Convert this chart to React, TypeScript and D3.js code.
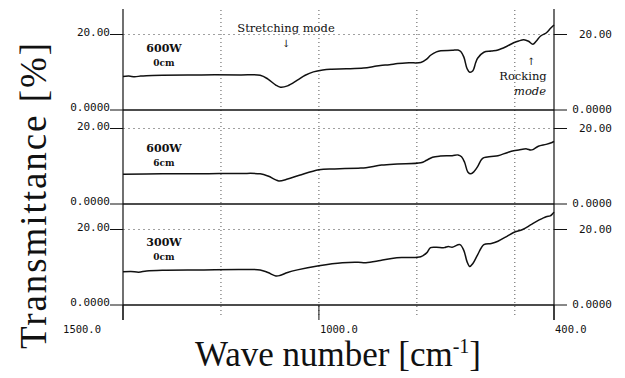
import React, { useRef, useEffect } from 'react';
import * as d3 from 'd3';

// wave number [cm-1] and transmittance [%]
const wn1 = [1500, 1485, 1470, 1455, 1440, 1400, 1300, 1200, 1150, 1130, 1110, 1098, 1080, 1055, 1035, 1014, 990, 971, 930, 886, 860, 843, 820, 799, 770, 740, 725, 715, 700, 689, 660, 645, 638, 630, 622, 615, 607, 600, 595, 579, 560, 543, 520, 503, 490, 477, 465, 454, 445, 434, 420, 410, 400];
const t1 = [8.9, 9.0, 8.8, 9.0, 9.1, 9.2, 9.3, 9.3, 9.2, 8.2, 6.6, 6.05, 6.4, 7.9, 9.2, 10.1, 10.6, 10.8, 10.9, 11.1, 11.5, 11.8, 12.0, 12.3, 12.5, 12.6, 13.5, 14.5, 15.4, 15.7, 15.8, 15.9, 15.5, 14.0, 11.0, 10.0, 10.4, 12.5, 13.7, 15.3, 15.6, 15.9, 16.9, 17.8, 18.3, 18.6, 18.2, 17.4, 18.3, 19.6, 20.4, 21.5, 22.5];

const wn2 = [1500, 1400, 1300, 1200, 1150, 1130, 1110, 1102, 1080, 1050, 1000, 960, 900, 880, 840, 800, 740, 725, 710, 690, 660, 645, 636, 628, 620, 612, 604, 595, 585, 579, 560, 543, 520, 503, 490, 470, 460, 454, 440, 420, 405, 400];
const t2 = [7.9, 8.0, 8.0, 8.1, 8.0, 7.4, 6.4, 6.1, 6.6, 7.6, 9.1, 9.3, 9.5, 9.6, 10.3, 10.6, 10.9, 11.6, 12.4, 12.7, 12.8, 13.0, 12.5, 11.0, 8.5, 8.0, 8.6, 9.9, 11.8, 12.3, 12.6, 12.8, 13.6, 14.1, 14.3, 14.6, 14.3, 14.4, 15.3, 15.8, 16.3, 16.6];

const wn3 = [1500, 1480, 1460, 1440, 1400, 1300, 1200, 1150, 1130, 1110, 1100, 1080, 1055, 1000, 940, 900, 880, 843, 810, 780, 740, 725, 715, 700, 680, 670, 660, 640, 630, 622, 615, 607, 595, 579, 560, 543, 520, 503, 480, 460, 440, 420, 410, 405, 400];
const t3 = [8.8, 8.9, 8.7, 9.0, 9.2, 9.3, 9.4, 9.3, 8.6, 7.7, 7.8, 8.6, 9.3, 10.4, 11.2, 11.3, 11.2, 11.8, 12.4, 12.6, 12.8, 13.8, 15.2, 15.3, 15.2, 15.5, 15.3, 16.0, 14.4, 11.5, 10.2, 11.0, 13.3, 16.0, 16.3, 16.9, 18.2, 19.2, 20.0, 21.2, 22.4, 23.4, 23.6, 24.0, 24.6];

const panelPower = ['600W', '600W', '300W'];
const panelDist = ['0cm', '6cm', '0cm'];
const yTickValues = [0, 20];
const yTickLabels = ['0.0000', '20.00'];
const xGrid = [1250, 1000, 750, 500];
const xTickValues = [1500, 1000, 400];
const xTickLabels = ['1500.0', '1000.0', '400.0'];

const W = 625;
const H = 378;

const App = () => {
  const ref = useRef<SVGSVGElement>(null);

  useEffect(() => {
    const svg = d3.select(ref.current);
    svg.selectAll('*').remove();

    const x = d3.scaleLinear().domain([1500, 400]).range([123, 554]);
    const zeroY = [110, 204, 305];
    const topY = [10, 110, 204];
    const series = [
      wn1.map((w, i) => [w, t1[i]]),
      wn2.map((w, i) => [w, t2[i]]),
      wn3.map((w, i) => [w, t3[i]]),
    ];
    const mono = 'DejaVu Sans Mono, monospace';
    const serif = 'DejaVu Serif, serif';

    // vertical dotted grid
    xGrid.forEach(v => {
      svg.append('line')
        .attr('x1', x(v)).attr('x2', x(v))
        .attr('y1', 10).attr('y2', 318)
        .attr('stroke', '#555').attr('stroke-width', 1)
        .attr('stroke-dasharray', '1,3');
    });

    series.forEach((data, p) => {
      const y = d3.scaleLinear().domain([0, 20]).range([zeroY[p], zeroY[p] - 75.5]);

      // dotted 20% line
      svg.append('line')
        .attr('x1', x(1500)).attr('x2', x(400))
        .attr('y1', y(20)).attr('y2', y(20))
        .attr('stroke', '#888').attr('stroke-width', 0.8)
        .attr('stroke-dasharray', '2,3');

      // zero line
      svg.append('line')
        .attr('x1', x(1500)).attr('x2', x(400))
        .attr('y1', y(0)).attr('y2', y(0))
        .attr('stroke', '#111').attr('stroke-width', 1.6);

      yTickValues.forEach((v, i) => {
        svg.append('line')
          .attr('x1', 110).attr('x2', x(1500))
          .attr('y1', y(v)).attr('y2', y(v))
          .attr('stroke', '#111').attr('stroke-width', 1);
        svg.append('text')
          .attr('x', 110).attr('y', y(v) + 1)
          .attr('text-anchor', 'end')
          .attr('font-family', mono).attr('font-size', 11)
          .attr('fill', '#111')
          .text(yTickLabels[i]);

        svg.append('line')
          .attr('x1', x(400)).attr('x2', 567)
          .attr('y1', y(v)).attr('y2', y(v))
          .attr('stroke', '#111').attr('stroke-width', 1);
        svg.append('text')
          .attr('x', 612).attr('y', y(v))
          .attr('text-anchor', 'end')
          .attr('dominant-baseline', 'middle')
          .attr('font-family', mono).attr('font-size', 11)
          .attr('fill', '#111')
          .text(yTickLabels[i]);
      });

      const line = d3.line()
        .x(d => x(d[0]))
        .y(d => y(d[1]))
        .curve(d3.curveCatmullRom);

      svg.append('path')
        .datum(data)
        .attr('fill', 'none')
        .attr('stroke', '#111')
        .attr('stroke-width', 1.5)
        .attr('d', line);

      svg.append('text')
        .attr('x', 164).attr('y', topY[p] + 42)
        .attr('text-anchor', 'middle')
        .attr('font-family', serif).attr('font-weight', 'bold')
        .attr('font-size', 11).attr('fill', '#111')
        .text(panelPower[p]);
      svg.append('text')
        .attr('x', 164).attr('y', topY[p] + 56)
        .attr('text-anchor', 'middle')
        .attr('font-family', serif).attr('font-weight', 'bold')
        .attr('font-size', 9).attr('fill', '#111')
        .text(panelDist[p]);
    });

    // frame verticals
    [1500, 400].forEach(v => {
      svg.append('line')
        .attr('x1', x(v)).attr('x2', x(v))
        .attr('y1', 9).attr('y2', 320)
        .attr('stroke', '#111').attr('stroke-width', 1.2);
    });

    // bottom ticks
    xTickValues.forEach((v, i) => {
      svg.append('line')
        .attr('x1', x(v)).attr('x2', x(v))
        .attr('y1', 305).attr('y2', 320)
        .attr('stroke', '#111').attr('stroke-width', 1);
      svg.append('text')
        .attr('x', i === 0 ? x(v) - 22 : x(v) + 1)
        .attr('y', 330)
        .attr('text-anchor', i === 0 ? 'end' : 'start')
        .attr('dominant-baseline', 'middle')
        .attr('font-family', mono).attr('font-size', 10.5)
        .attr('fill', '#111')
        .text(xTickLabels[i]);
    });

    // annotations
    svg.append('text')
      .attr('x', 286).attr('y', 32)
      .attr('text-anchor', 'middle')
      .attr('font-family', serif).attr('font-size', 11.5).attr('fill', '#111')
      .text('Stretching mode');
    svg.append('text')
      .attr('x', 286).attr('y', 47)
      .attr('text-anchor', 'middle')
      .attr('font-family', serif).attr('font-size', 10).attr('fill', '#111')
      .text('↓');
    svg.append('text')
      .attr('x', 531).attr('y', 65)
      .attr('text-anchor', 'middle')
      .attr('font-family', serif).attr('font-size', 10).attr('fill', '#111')
      .text('↑');
    svg.append('text')
      .attr('x', 523).attr('y', 80)
      .attr('text-anchor', 'middle')
      .attr('font-family', serif).attr('font-size', 11.5).attr('fill', '#111')
      .text('Rocking');
    svg.append('text')
      .attr('x', 530).attr('y', 95)
      .attr('text-anchor', 'middle')
      .attr('font-family', serif).attr('font-style', 'italic')
      .attr('font-size', 11.5).attr('fill', '#111')
      .text('mode');

    // axis titles
    const xt = svg.append('text')
      .attr('x', 338).attr('y', 366)
      .attr('text-anchor', 'middle')
      .attr('font-family', 'Liberation Serif, serif').attr('font-size', 35)
      .attr('fill', '#111');
    xt.append('tspan').text('Wave number [cm');
    xt.append('tspan').attr('font-size', 20).attr('dy', -13).text('-1');
    xt.append('tspan').attr('dy', 13).text(']');

    svg.append('text')
      .attr('transform', 'translate(46,196) rotate(-90)')
      .attr('text-anchor', 'middle')
      .attr('font-family', 'Liberation Serif, serif').attr('font-size', 37)
      .attr('textLength', 306)
      .attr('lengthAdjust', 'spacing')
      .attr('fill', '#111')
      .text('Transmittance [%]');
  }, []);

  return (
    <svg ref={ref} width={W} height={H} style={{ position: 'absolute', left: 0, top: 0, background: '#fff' }} />
  );
};

export default App;
